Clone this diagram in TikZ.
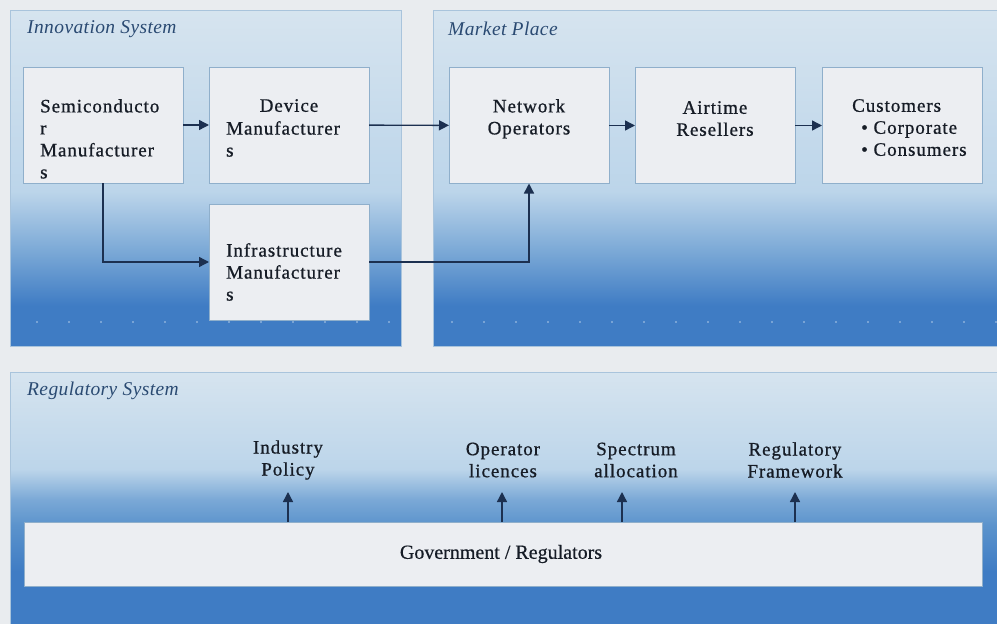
\documentclass[tikz,border=0pt]{standalone}
\usepackage{fontspec}
\setmainfont{Liberation Serif}
\newfontfamily\spacedfont[LetterSpace=5,FakeBold=0.8]{Liberation Serif}
\newfontfamily\govfont[FakeBold=0.5]{Liberation Serif}
\newfontfamily\titlefont[LetterSpace=2]{Liberation Serif}
\usetikzlibrary{arrows.meta,calc}
\definecolor{bgc}{HTML}{E9ECEF}
\definecolor{pL1}{HTML}{D6E4EF}
\definecolor{pL2}{HTML}{BCD5EA}
\definecolor{pM}{HTML}{7AA8D6}
\definecolor{pM2}{HTML}{5B93CC}
\definecolor{pB}{HTML}{3F7CC4}
\definecolor{pborder}{HTML}{A9C4DC}
\definecolor{boxfill}{HTML}{ECEEF2}
\definecolor{boxline}{HTML}{8FAFCB}
\definecolor{arrc}{HTML}{1C3050}
\definecolor{titlec}{HTML}{2A4A72}
\definecolor{txtc}{HTML}{161C26}
\pgfdeclareverticalshading{topshade}{100bp}{color(0bp)=(pB); color(31bp)=(pB); color(39bp)=(pM); color(48bp)=(pL2); color(75bp)=(pL1); color(100bp)=(pL1)}
\pgfdeclareverticalshading{regshade}{100bp}{color(0bp)=(pB); color(36bp)=(pB); color(45bp)=(pM2); color(50bp)=(pM); color(56bp)=(pL2); color(75bp)=(pL1); color(100bp)=(pL1)}
\tikzset{
  panel/.style={draw=pborder, line width=0.8pt, inner sep=0pt, outer sep=0pt},
  box/.style={draw=boxline, fill=boxfill, line width=0.6pt, inner sep=0pt, outer sep=0pt, minimum width=160pt, minimum height=116pt},
  ptitle/.style={font=\titlefont\fontsize{19.5}{21}\selectfont\itshape, text=titlec, inner sep=0pt, anchor=west},
  txt/.style={font=\spacedfont\fontsize{19}{22}\selectfont, text=txtc, inner sep=0pt},
  gtxt/.style={font=\govfont\fontsize{20}{22}\selectfont, text=txtc, inner sep=0pt},
  arr/.style={draw=arrc, line width=1.4pt, -{Triangle[length=10pt,width=10pt]}},
}
\begin{document}
\begin{tikzpicture}[x=1pt,y=-1pt]
\useasboundingbox (0,0) rectangle (997,624);
\fill[bgc] (0,0) rectangle (997,624);
% panels
\node[panel, shading=topshade, minimum width=391pt, minimum height=336pt] (inno) at (205.5,178) {};
\node[panel, shading=topshade, minimum width=572pt, minimum height=336pt] (mkt) at (719,178) {};
\node[panel, shading=regshade, minimum width=995pt, minimum height=256pt] (reg) at (507.5,500) {};
\node[ptitle] (tinno) at (27,29) {Innovation System};
\node[ptitle] (tmkt) at (448,29) {Market Place};
\node[ptitle] (treg) at (27,391) {Regulatory System};
% dotted lines
\foreach \x in {37,69,...,390} \fill[white, opacity=0.6] (\x,322) circle (0.9pt);
\foreach \x in {452,484,...,997} \fill[white, opacity=0.6] (\x,322) circle (0.9pt);
% boxes
\node[box] (semi) at (103,125) {};
\node[box] (dev) at (289,125) {};
\node[box] (infra) at (289,262) {};
\node[box] (net) at (529,125.5) {};
\node[box] (air) at (715,125.5) {};
\node[box] (cust) at (902,125.5) {};
\node[box, minimum width=958pt, minimum height=64pt] (gov) at (503,554) {};
% box texts
\node[txt, align=left, anchor=north west] (semit) at (40,99) {Semiconducto\\r\\Manufacturer\\s};
\node[txt, anchor=north] (devt1) at (289,99) {Device};
\node[txt, align=left, anchor=north west] (devt2) at (226,121) {Manufacturer\\s};
\node[txt, align=left, anchor=north west] (infrat) at (226,243) {Infrastructure\\Manufacturer\\s};
\node[txt, align=center, anchor=north] (nett) at (529,99) {Network\\Operators};
\node[txt, align=center, anchor=north] (airt) at (715,101) {Airtime\\Resellers};
\node[txt, align=left, anchor=north west] (custt) at (852,99) {Customers\\\hspace*{9pt}\textbullet\ Corporate\\\hspace*{9pt}\textbullet\ Consumers};
\node[gtxt] (govt) at (501,554) {Government / Regulators};
% regulatory labels
\node[txt, align=center] (ip) at (288,460) {Industry\\Policy};
\node[txt, align=center] (ol) at (503,460) {Operator\\licences};
\node[txt, align=center] (sa) at (636,460) {Spectrum\\allocation};
\node[txt, align=center] (rf) at (795,460) {Regulatory\\Framework};
\coordinate (ipe) at (288,492);
\coordinate (ole) at (502,492);
\coordinate (sae) at (622,492);
\coordinate (rfe) at (795,492);
% connectors
\draw[arr] (semi) -- (dev);
\draw[arr] (semi.south) |- (infra.west);
\draw[arr] (dev) -- (net);
\draw[arr] (infra.east) -| (net.south);
\draw[arr] (net) -- (air);
\draw[arr] (air) -- (cust);
\draw[arr] (gov.north -| ipe) -- (ipe);
\draw[arr] (gov.north -| ole) -- (ole);
\draw[arr] (gov.north -| sae) -- (sae);
\draw[arr] (gov.north -| rfe) -- (rfe);
\end{tikzpicture}
\end{document}
